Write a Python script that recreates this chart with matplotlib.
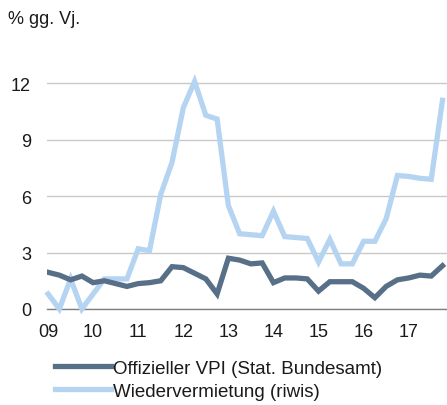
import matplotlib
matplotlib.use("Agg")
import matplotlib.pyplot as plt

plt.rcParams['font.family'] = ['Liberation Sans', 'DejaVu Sans']

year_labels = ["09", "10", "11", "12", "13", "14", "15", "16", "17"]
vpi = [1.95, 1.8, 1.55, 1.75, 1.4, 1.5, 1.35, 1.2, 1.35, 1.4, 1.5, 2.25,
       2.2, 1.9, 1.6, 0.8, 2.7, 2.6, 2.4, 2.45, 1.4, 1.65, 1.65, 1.6,
       0.95, 1.45, 1.45, 1.45, 1.1, 0.6, 1.2, 1.55, 1.65, 1.8, 1.75, 2.3]
riwis = [0.8, 0.0, 1.6, 0.0, 0.8, 1.6, 1.6, 1.6, 3.2, 3.1, 6.1, 7.8,
         10.7, 12.1, 10.3, 10.1, 5.5, 4.0, 3.95, 3.9, 5.2, 3.85, 3.8, 3.75,
         2.5, 3.7, 2.4, 2.4, 3.6, 3.6, 4.8, 7.1, 7.05, 6.95, 6.9, 11.1]
series_names = ["Offizieller VPI (Stat. Bundesamt)", "Wiedervermietung (riwis)"]
yticks = [0, 3, 6, 9, 12]

fig = plt.figure(figsize=(4.47, 4.06), dpi=100)
ax = fig.add_axes([0.105, 0.2365, 0.895, 0.5835])

x = list(range(len(vpi)))
dark = "#587087"
light = "#b5d4f2"
l1, = ax.plot(x, vpi, color=dark, lw=3.8, solid_joinstyle='miter', zorder=3)
l2, = ax.plot(x, riwis, color=light, lw=3.8, solid_joinstyle='miter', zorder=2, clip_on=False)

ax.set_xlim(-0.1, 35.4)
ax.set_ylim(0, 12.6)
ax.set_yticks(yticks)
ax.set_yticklabels([str(v) for v in yticks])
ax.set_xticks(list(range(0, 36, 4)))
ax.set_xticklabels(year_labels)
ax.grid(axis='y', color='#c8c8c8', lw=1.0)
ax.set_axisbelow(True)
for s in ['top', 'right', 'left']:
    ax.spines[s].set_visible(False)
ax.spines['bottom'].set_color('#808080')
ax.spines['bottom'].set_linewidth(1.0)
ax.spines['bottom'].set_zorder(1)
ax.tick_params(axis='both', length=0, labelsize=13, colors='#1a1a1a')
ax.tick_params(axis='y', pad=11.5)
ax.tick_params(axis='x', pad=10)

fig.text(0.018, 0.953, "% gg. Vj.", fontsize=13, color='#1a1a1a', va='center', ha='left')

leg = fig.legend([l1, l2], series_names, loc='upper left', bbox_to_anchor=(0.124, 0.112),
                 frameon=False, fontsize=13.5, handlelength=2.95, handletextpad=0.12,
                 labelspacing=0.32, borderaxespad=0, borderpad=0)
for t in leg.get_texts():
    t.set_color('#1a1a1a')

fig.savefig("out.png", dpi=100)
